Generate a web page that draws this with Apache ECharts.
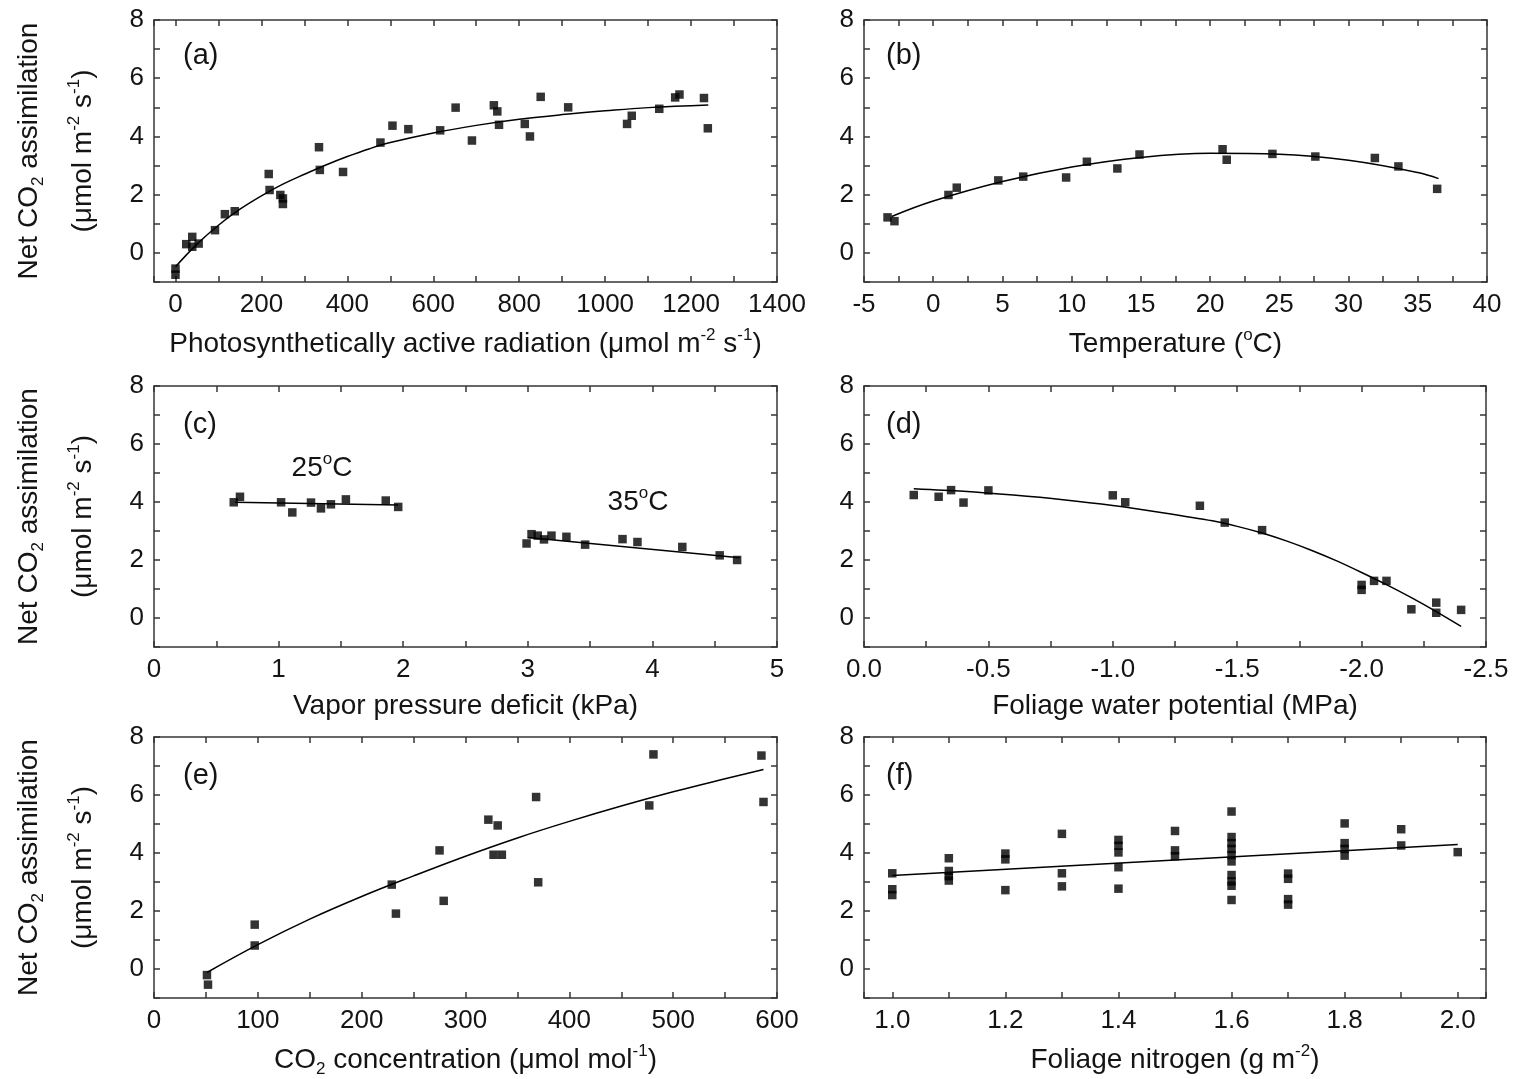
<!DOCTYPE html>
<html>
<head>
<meta charset="utf-8">
<script src="https://cdn.jsdelivr.net/npm/echarts@6/dist/echarts.min.js"></script>
<style>
  html, body { margin: 0; padding: 0; background: #ffffff; }
  #chart { width: 1521px; height: 1079px; }
</style>
</head>
<body>
<div id="chart"></div>
<script>
// ---- (a) photosynthetically active radiation ----
const parX = [0, 0, 25, 39, 39, 54, 92, 115, 138, 217, 219, 244, 250, 250, 334, 336, 390, 477, 505, 542, 616, 652, 690,
              741, 749, 753, 813, 825, 850, 914, 1051, 1062, 1126, 1163, 1173, 1230, 1239];
const parY = [-0.54, -0.75, 0.30, 0.55, 0.21, 0.32, 0.78, 1.33, 1.43, 2.71, 2.16, 1.99, 1.87, 1.68, 3.63, 2.85, 2.78, 3.79, 4.37, 4.25, 4.21, 4.99, 3.86,
              5.07, 4.86, 4.40, 4.43, 4.00, 5.36, 5.00, 4.43, 4.71, 4.95, 5.34, 5.44, 5.32, 4.28];
const parFitX = [0, 50, 100, 150, 200, 250, 300, 350, 400, 450, 500, 600, 700, 800, 900, 1000, 1100, 1240];
const parFitY = [-0.48, 0.30, 0.95, 1.50, 1.96, 2.36, 2.70, 3.02, 3.31, 3.57, 3.79, 4.12, 4.38, 4.59, 4.75, 4.88, 4.99, 5.08];

// ---- (b) temperature ----
const tempX = [-3.3, -2.8, 1.1, 1.7, 4.7, 6.5, 9.6, 11.1, 13.3, 14.9, 20.9, 21.2, 24.5, 27.6, 31.9, 33.6, 36.4];
const tempY = [1.22, 1.09, 1.99, 2.24, 2.49, 2.62, 2.59, 3.13, 2.90, 3.38, 3.56, 3.20, 3.40, 3.31, 3.26, 2.97, 2.20];
const tempFitX = [-3, 0, 5, 10, 15, 20, 25, 30, 35, 36.5];
const tempFitY = [1.25, 1.78, 2.45, 2.95, 3.28, 3.42, 3.39, 3.18, 2.76, 2.55];

// ---- (c) vapor pressure deficit at two temperatures ----
const vpd25X = [0.64, 0.69, 1.02, 1.11, 1.26, 1.34, 1.42, 1.54, 1.86, 1.96];
const vpd25Y = [3.99, 4.18, 3.99, 3.64, 3.98, 3.78, 3.92, 4.09, 4.05, 3.83];
const vpd35X = [2.99, 3.03, 3.08, 3.13, 3.19, 3.31, 3.46, 3.76, 3.88, 4.24, 4.54, 4.68];
const vpd35Y = [2.57, 2.89, 2.84, 2.71, 2.84, 2.80, 2.53, 2.72, 2.62, 2.45, 2.16, 2.00];
const vpd25FitX = [0.65, 1.96];
const vpd25FitY = [3.99, 3.90];
const vpd35FitX = [3.0, 4.7];
const vpd35FitY = [2.78, 2.08];

// ---- (d) foliage water potential ----
const psiX = [-0.2, -0.3, -0.35, -0.4, -0.5, -1.0, -1.05, -1.35, -1.45, -1.6, -2.0, -2.0, -2.05, -2.1, -2.2, -2.3, -2.3, -2.4];
const psiY = [4.24, 4.18, 4.41, 3.98, 4.40, 4.23, 3.99, 3.87, 3.29, 3.03, 1.14, 0.97, 1.28, 1.28, 0.30, 0.53, 0.18, 0.28];
const psiFitX = [-0.2, -0.4, -0.6, -0.8, -1.0, -1.2, -1.4, -1.5, -1.6, -1.7, -1.8, -1.9, -2.0, -2.1, -2.2, -2.3, -2.4];
const psiFitY = [4.46, 4.37, 4.24, 4.08, 3.88, 3.63, 3.35, 3.16, 2.93, 2.65, 2.33, 1.97, 1.57, 1.15, 0.70, 0.22, -0.29];

// ---- (e) CO2 concentration ----
const co2X = [51, 52, 97, 97, 229, 233, 275, 279, 322, 331, 327, 335, 368, 370, 477, 481, 585, 587];
const co2Y = [-0.21, -0.54, 1.53, 0.81, 2.91, 1.91, 4.09, 2.35, 5.15, 4.95, 3.94, 3.94, 5.93, 2.99, 5.64, 7.40, 7.36, 5.76];
const co2FitX = [51, 100, 150, 200, 250, 300, 350, 400, 450, 500, 550, 587];
const co2FitY = [-0.12, 0.84, 1.72, 2.50, 3.21, 3.89, 4.52, 5.09, 5.62, 6.11, 6.56, 6.88];

// ---- (f) foliage nitrogen ----
const nX = [1.0, 1.0, 1.0,
            1.1, 1.1, 1.1, 1.1,
            1.2, 1.2, 1.2,
            1.3, 1.3, 1.3,
            1.4, 1.4, 1.4, 1.4, 1.4,
            1.5, 1.5, 1.5,
            1.6, 1.6, 1.6, 1.6, 1.6, 1.6, 1.6, 1.6, 1.6, 1.6,
            1.7, 1.7, 1.7, 1.7,
            1.8, 1.8, 1.8, 1.8,
            1.9, 1.9,
            2.0];
const nY = [3.30, 2.75, 2.55,
            3.82, 3.38, 3.20, 3.05,
            3.98, 3.78, 2.72,
            4.66, 3.30, 2.85,
            4.45, 4.25, 4.02, 3.51, 2.77,
            4.76, 4.09, 3.89,
            5.43, 4.55, 4.34, 4.14, 3.93, 3.71, 3.24, 3.02, 2.87, 2.38,
            3.29, 3.11, 2.41, 2.22,
            5.02, 4.34, 4.14, 3.91,
            4.82, 4.26,
            4.03];
const nFitX = [1.0, 2.0];
const nFitY = [3.22, 4.29];

// ---- tick labels ----
const yTickLabels = [0, 2, 4, 6, 8];
const parTickLabels = [0, 200, 400, 600, 800, 1000, 1200, 1400];
const tempTickLabels = [-5, 0, 5, 10, 15, 20, 25, 30, 35, 40];
const vpdTickLabels = [0, 1, 2, 3, 4, 5];
const psiTickLabels = [0, -0.5, -1.0, -1.5, -2.0, -2.5];
const co2TickLabels = [0, 100, 200, 300, 400, 500, 600];
const nTickLabels = [1.0, 1.2, 1.4, 1.6, 1.8, 2.0];

// ---- styling ----
const FONT = '"Liberation Sans", Arial, Helvetica, sans-serif';
const TXT = '#141414';
const AX = '#363636';
const MARK = '#000000';
const TICK_FS = 26;
const TITLE_FS = 28;

function pairs(xs, ys) { return xs.map((x, i) => [x, ys[i]]); }

function tickFormatter(labels, dec) {
  return function (v) {
    const hit = labels.find(l => Math.abs(l - v) < 1e-6);
    return hit === undefined ? '' : hit.toFixed(dec);
  };
}

const richName = {
  t:  { fontSize: TITLE_FS, fontFamily: FONT, color: TXT, lineHeight: 54 },
  sp: { fontSize: 17, fontFamily: FONT, color: TXT, lineHeight: 54, padding: [0, 0, 18, 0] },
  sb: { fontSize: 17, fontFamily: FONT, color: TXT, lineHeight: 54, padding: [18, 0, 0, 0] }
};

const yName = '{t|Net CO}{sb|2}{t| assimilation}\n{t|(\u03bcmol m}{sp|-2}{t| s}{sp|-1}{t|)}';

// panel layout and axis settings
const panels = [
  { grid: { left: 154, top: 20, width: 623, height: 262 }, letter: '(a)',
    x: { min: -50, max: 1400, step: 100, labels: parTickLabels, dec: 0,
         name: '{t|Photosynthetically active radiation (\u03bcmol m}{sp|-2}{t| s}{sp|-1}{t|)}' },
    yTitle: true },
  { grid: { left: 864, top: 20, width: 623, height: 262 }, letter: '(b)',
    x: { min: -5, max: 40, interval: 2.5, labels: tempTickLabels, dec: 0,
         name: '{t|Temperature (}{sp|o}{t|C)}' } },
  { grid: { left: 154, top: 386, width: 623, height: 261 }, letter: '(c)',
    x: { min: 0, max: 5, interval: 0.5, labels: vpdTickLabels, dec: 0,
         name: '{t|Vapor pressure deficit (kPa)}' },
    yTitle: true },
  { grid: { left: 864, top: 386, width: 622, height: 261 }, letter: '(d)',
    x: { min: -2.5, max: 0, interval: 0.25, inverse: true, labels: psiTickLabels, dec: 1,
         name: '{t|Foliage water potential (MPa)}' } },
  { grid: { left: 154, top: 737, width: 623, height: 261 }, letter: '(e)',
    x: { min: 0, max: 600, interval: 50, labels: co2TickLabels, dec: 0,
         name: '{t|CO}{sb|2}{t| concentration (\u03bcmol mol}{sp|-1}{t|)}' },
    yTitle: true },
  { grid: { left: 864, top: 737, width: 622, height: 261 }, letter: '(f)',
    x: { min: 0.95, max: 2.05, step: 0.1, labels: nTickLabels, dec: 1,
         name: '{t|Foliage nitrogen (g m}{sp|-2}{t|)}' } }
];

const lineStyleAxis = { color: AX, width: 1.5 };

const grids = [], xAxes = [], yAxes = [], series = [], graphics = [];

panels.forEach((p, gi) => {
  grids.push(Object.assign({ containLabel: false }, p.grid));

  const xBase = {
    gridIndex: gi, type: 'value', min: p.x.min, max: p.x.max, inverse: !!p.x.inverse,
    splitLine: { show: false },
    axisLine: { show: true, onZero: false, lineStyle: lineStyleAxis },
    axisTick: { show: true, inside: true, length: 6, lineStyle: lineStyleAxis }
  };
  if (p.x.interval) {
    xBase.interval = p.x.interval;
  } else {
    xBase.minInterval = p.x.step;
    xBase.maxInterval = p.x.step;
    xBase.splitNumber = Math.round((p.x.max - p.x.min) / p.x.step);
  }
  xAxes.push(Object.assign({}, xBase, {
    position: 'bottom',
    axisLabel: { show: true, formatter: tickFormatter(p.x.labels, p.x.dec), fontSize: TICK_FS,
                 fontFamily: FONT, color: TXT, margin: 10 },
    name: p.x.name, nameLocation: 'middle', nameGap: 45,
    nameTextStyle: { fontFamily: FONT, color: TXT, fontSize: TITLE_FS, rich: {
      t: { fontSize: TITLE_FS, fontFamily: FONT, color: TXT },
      sp: { fontSize: 17, fontFamily: FONT, color: TXT, padding: [0, 0, 18, 0] },
      sb: { fontSize: 17, fontFamily: FONT, color: TXT, padding: [18, 0, 0, 0] }
    } }
  }));
  xAxes.push(Object.assign({}, xBase, { position: 'top', axisLabel: { show: false } }));

  const yBase = {
    gridIndex: gi, type: 'value', min: -1, max: 8, interval: 1,
    splitLine: { show: false },
    axisLine: { show: true, onZero: false, lineStyle: lineStyleAxis },
    axisTick: { show: true, inside: true, length: 6, lineStyle: lineStyleAxis }
  };
  const yLeft = Object.assign({}, yBase, {
    position: 'left',
    axisLabel: { show: true, formatter: tickFormatter(yTickLabels, 0), fontSize: TICK_FS,
                 fontFamily: FONT, color: TXT, margin: 10 }
  });
  if (p.yTitle) {
    Object.assign(yLeft, {
      name: yName, nameLocation: 'middle', nameGap: 44, nameRotate: 90,
      nameTextStyle: { fontFamily: FONT, color: TXT, fontSize: TITLE_FS, rich: richName }
    });
  }
  yAxes.push(yLeft);
  yAxes.push(Object.assign({}, yBase, { position: 'right', axisLabel: { show: false } }));

  graphics.push({
    type: 'text', left: p.grid.left + (gi % 2 === 0 ? 29 : 22), top: p.grid.top + (gi < 2 ? 21 : 24),
    style: { text: p.letter, fontSize: 29, fontFamily: FONT, fill: TXT }
  });
});

const scatterStyle = { type: 'scatter', symbol: 'rect', symbolSize: 8.5, itemStyle: { color: MARK }, z: 3 };
const fitStyle = { type: 'line', showSymbol: false, symbol: 'none', lineStyle: { color: MARK, width: 1.5 }, z: 2 };

function addPanel(gi, pts, fits) {
  series.push(Object.assign({ xAxisIndex: gi * 2, yAxisIndex: gi * 2, data: pts }, scatterStyle));
  fits.forEach(f => series.push(Object.assign({ xAxisIndex: gi * 2, yAxisIndex: gi * 2, data: f.data, smooth: f.smooth || 0 }, fitStyle)));
}

addPanel(0, pairs(parX, parY), [{ data: pairs(parFitX, parFitY), smooth: 0.4 }]);
addPanel(1, pairs(tempX, tempY), [{ data: pairs(tempFitX, tempFitY), smooth: 0.4 }]);
addPanel(2, pairs(vpd25X, vpd25Y).concat(pairs(vpd35X, vpd35Y)),
  [{ data: pairs(vpd25FitX, vpd25FitY) }, { data: pairs(vpd35FitX, vpd35FitY) }]);
addPanel(3, pairs(psiX, psiY), [{ data: pairs(psiFitX, psiFitY), smooth: 0.3 }]);
addPanel(4, pairs(co2X, co2Y), [{ data: pairs(co2FitX, co2FitY), smooth: 0.4 }]);
addPanel(5, pairs(nX, nY), [{ data: pairs(nFitX, nFitY) }]);

// temperature labels in panel (c)
const tempLabelRich = { s: { fontSize: 17, fontFamily: FONT, fill: TXT, padding: [0, 0, 18, 0] } };
graphics.push({ type: 'text', x: 322, y: 468,
  style: { text: '25{s|o}C', fontSize: TITLE_FS, fontFamily: FONT, fill: TXT, align: 'center', verticalAlign: 'middle', rich: tempLabelRich } });
graphics.push({ type: 'text', x: 638, y: 502,
  style: { text: '35{s|o}C', fontSize: TITLE_FS, fontFamily: FONT, fill: TXT, align: 'center', verticalAlign: 'middle', rich: tempLabelRich } });

const chart = echarts.init(document.getElementById('chart'), null, { renderer: 'canvas' });
chart.setOption({
  backgroundColor: '#ffffff',
  animation: false,
  grid: grids,
  xAxis: xAxes,
  yAxis: yAxes,
  series: series,
  graphic: graphics
});
</script>
</body>
</html>
